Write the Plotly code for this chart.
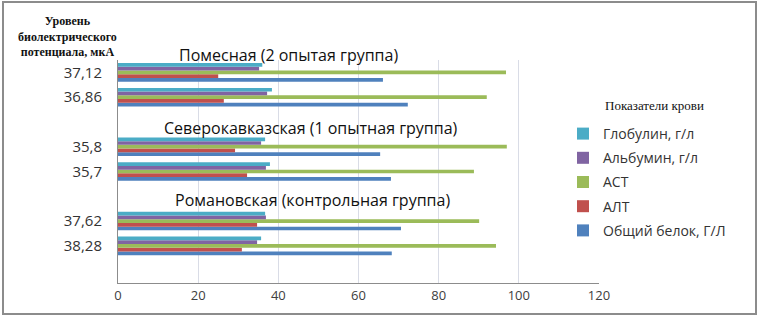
import plotly.graph_objects as go

categories = ["38,28", "37,62", "35,7", "35,8", "36,86", "37,12"]
slots = ["gap1", "38,28", "37,62", "gap2", "35,7", "35,8", "gap3", "36,86", "37,12"]
obshiy_belok = [68.3, 70.6, 68.1, 65.4, 72.3, 66.1]
alt = [30.9, 34.7, 32.2, 29.2, 26.4, 25.0]
ast = [94.3, 90.1, 88.8, 97.0, 92.0, 96.8]
albumin = [34.7, 36.9, 36.9, 35.7, 37.2, 35.2]
globulin = [35.7, 36.7, 37.9, 36.7, 38.4, 36.0]
series_names = ["Общий белок, Г/Л", "АЛТ", "АСТ", "Альбумин, г/л", "Глобулин, г/л"]
colors = ["#4F81BD", "#C0504D", "#9BBB59", "#8064A2", "#4BACC6"]
group_labels = ["Романовская (контрольная группа)", "Северокавказская (1 опытная группа)", "Помесная (2 опытая группа)"]
x_ticks = [0, 20, 40, 60, 80, 100, 120]


def on_slots(vals):
    lookup = dict(zip(categories, vals))
    return [lookup.get(s) for s in slots]


fig = go.Figure()
n = len(series_names)
for i, (name, vals, col) in enumerate(zip(series_names, [obshiy_belok, alt, ast, albumin, globulin], colors)):
    fig.add_trace(go.Bar(y=slots, x=on_slots(vals), name=name, orientation="h",
                         marker=dict(color=col, line=dict(width=0)), legendgroup=name,
                         legendrank=n - i))

W, H = 759, 316
L, R, T, B = 118, 160, 60, 33
PW, PH = W - L - R, H - T - B

fig.update_layout(
    width=W, height=H,
    margin=dict(l=L, r=R, t=T, b=B, autoexpand=False),
    paper_bgcolor="white", plot_bgcolor="white",
    barmode="group", bargap=0.25, bargroupgap=0,
    font=dict(family="Open Sans", color="#333"),
    xaxis=dict(range=[0, 120], tickvals=x_ticks, showgrid=True, gridcolor="#D9DCE6", gridwidth=1,
               zeroline=False, showline=True, linecolor="#8C8C8C", linewidth=1,
               tickfont=dict(size=13, color="#404040"), ticks="", ticklen=0, automargin=False),
    yaxis=dict(type="category", categoryorder="array", categoryarray=slots, range=[-0.5, 8.5],
               tickvals=categories, ticktext=categories,
               showline=True, linecolor="#8C8C8C", linewidth=1, showgrid=False,
               tickfont=dict(size=15, color="#333"), ticks="", ticklabelstandoff=12, automargin=False),
    legend=dict(x=(563 - L) / PW, y=(283 - 118) / PH, xanchor="left", yanchor="top", traceorder="grouped",
                tracegroupgap=3, bgcolor="white", font=dict(size=14, color="#333")),
    showlegend=True,
)

fig.add_annotation(text="Показатели крови", x=(603 - L) / PW, y=(283 - 105) / PH, xref="paper", yref="paper",
                   xanchor="left", yanchor="middle", showarrow=False,
                   font=dict(family="Liberation Serif", size=13, color="#111"))

group_y = [(283 - 200) / PH, (283 - 128) / PH, (283 - 55) / PH]
group_x = [(312 - L) / PW, (311 - L) / PW, (288 - L) / PW]
for txt, gx, gy in zip(group_labels, group_x, group_y):
    fig.add_annotation(text=txt, x=gx, y=gy, xref="paper", yref="paper", showarrow=False,
                       xanchor="center", yanchor="middle",
                       font=dict(size=16, color="#111", family="Open Sans"))

fig.add_annotation(text="<b>Уровень<br>биолектрического<br>потенциала, мкА</b>",
                   x=(67 - L) / PW, y=(283 - 37) / PH, xref="paper", yref="paper", showarrow=False,
                   xanchor="center", yanchor="middle",
                   font=dict(family="Liberation Serif", size=12, color="#111"), align="center")

fig.add_shape(type="rect", xref="paper", yref="paper",
              x0=(3 - L) / PW, x1=(756 - L) / PW, y0=(283 - 314) / PH, y1=(283 - 2) / PH,
              line=dict(color="#8C8C8C", width=2), fillcolor="rgba(0,0,0,0)", layer="above")

fig.write_html("out.html", config={"displayModeBar": False},
               post_script="document.body.style.margin='0';")
